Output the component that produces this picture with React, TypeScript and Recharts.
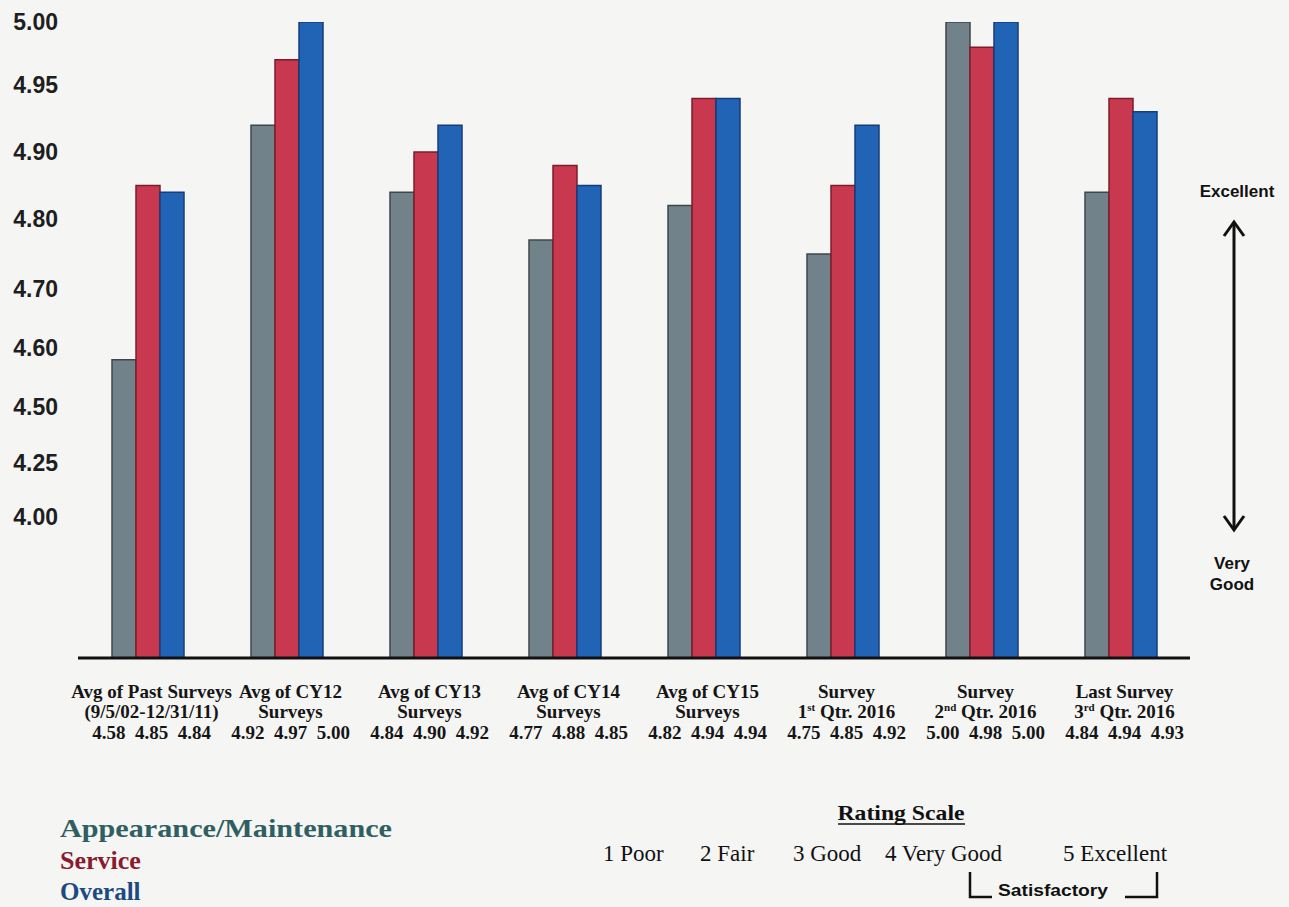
import React from 'react';
import { BarChart, Bar, XAxis, YAxis } from 'recharts';

// ---------- data ----------
const categoryTitles = [
  'Avg of Past Surveys',
  'Avg of CY12',
  'Avg of CY13',
  'Avg of CY14',
  'Avg of CY15',
  'Survey',
  'Survey',
  'Last Survey',
];
const categorySubtitles = [
  '(9/5/02-12/31/11)',
  'Surveys',
  'Surveys',
  'Surveys',
  'Surveys',
  '1^st Qtr. 2016',
  '2^nd Qtr. 2016',
  '3^rd Qtr. 2016',
];
const appearance = [4.58, 4.92, 4.84, 4.77, 4.82, 4.75, 5.0, 4.84];
const service = [4.85, 4.97, 4.9, 4.88, 4.94, 4.85, 4.98, 4.94];
const overall = [4.84, 5.0, 4.92, 4.85, 4.94, 4.92, 5.0, 4.93];

const yTickValues = [4.0, 4.25, 4.5, 4.6, 4.7, 4.8, 4.9, 4.95, 5.0];
// relative height of each tick along the (non-uniform) value axis, 0 = floor, 1 = top
const yTickFractions = [0.2217, 0.3066, 0.3947, 0.4874, 0.5802, 0.6903, 0.7956, 0.9009, 1];
const axisFloor = 3.35;

const ratingItems = ['1 Poor', '2 Fair', '3 Good', '4 Very Good', '5 Excellent'];

const chartData = categoryTitles.map((t, i) => ({
  name: t,
  appearance: appearance[i],
  service: service[i],
  overall: overall[i],
}));

// ---------- piecewise scale matching the printed axis ----------
function makeTickScale(): any {
  let dom: number[] = [axisFloor, 5];
  let rng: number[] = [0, 1];
  const kv = [axisFloor, ...yTickValues];
  const kf = [0, ...yTickFractions];
  const frac = (v: number) => {
    if (v <= kv[0]) return ((v - kv[0]) / (kv[1] - kv[0])) * (kf[1] - kf[0]);
    for (let i = 1; i < kv.length; i++) {
      if (v <= kv[i]) {
        const t = (v - kv[i - 1]) / (kv[i] - kv[i - 1]);
        return kf[i - 1] + t * (kf[i] - kf[i - 1]);
      }
    }
    const n = kv.length - 1;
    return 1 + ((v - kv[n]) / (kv[n] - kv[n - 1])) * (kf[n] - kf[n - 1]);
  };
  const s: any = (v: any) => rng[0] + frac(Number(v)) * (rng[1] - rng[0]);
  s.domain = function (d?: any) {
    if (d === undefined) return dom.slice();
    dom = d.map(Number);
    return s;
  };
  s.range = function (r?: any) {
    if (r === undefined) return rng.slice();
    rng = r.map(Number);
    return s;
  };
  s.copy = function () {
    const c = makeTickScale();
    c.domain(dom);
    c.range(rng);
    return c;
  };
  s.ticks = function () {
    return yTickValues.slice();
  };
  s.tickFormat = function () {
    return (v: any) => Number(v).toFixed(2);
  };
  s.invert = function (px: number) {
    const f = (px - rng[0]) / (rng[1] - rng[0]);
    for (let i = 1; i < kf.length; i++) {
      if (f <= kf[i]) {
        const t = (f - kf[i - 1]) / (kf[i] - kf[i - 1]);
        return kv[i - 1] + t * (kv[i] - kv[i - 1]);
      }
    }
    return kv[kv.length - 1];
  };
  s.clamp = function () {
    return s;
  };
  s.nice = function () {
    return s;
  };
  return s;
}
const yScale = makeTickScale();

// ---------- styling ----------
const GRAY = '#72828a';
const GRAY_EDGE = '#3c474b';
const RED = '#c8394f';
const RED_EDGE = '#7c1c2b';
const BLUE = '#2164b6';
const BLUE_EDGE = '#163d7a';

const SERIF = '"Liberation Serif", "Times New Roman", serif';
const SANS = '"Liberation Sans", Arial, sans-serif';

const XTick = (props: any) => {
  const { x, y, payload } = props;
  const i = payload.index;
  const title = categoryTitles[i];
  const sub = categorySubtitles[i];
  const m = /^(\d)\^(\w+)(.*)$/.exec(sub);
  const vals = [appearance[i], service[i], overall[i]].map((v) => v.toFixed(2)).join('\u00A0 ');
  const cx = x + 4;
  const common = {
    textAnchor: 'middle' as const,
    fontFamily: SERIF,
    fontWeight: 700,
    fontSize: 19,
    fill: '#151515',
  };
  return (
    <g>
      <text x={cx} y={y + 40} {...common}>
        {title}
      </text>
      <text x={cx} y={y + 60} {...common}>
        {m ? (
          <>
            <tspan>{m[1]}</tspan>
            <tspan fontSize={11} dy={-7}>
              {m[2]}
            </tspan>
            <tspan dy={7}>{m[3]}</tspan>
          </>
        ) : (
          sub
        )}
      </text>
      <text x={cx} y={y + 81} {...common}>
        {vals}
      </text>
    </g>
  );
};

export default function App() {
  return (
    <div
      style={{
        position: 'absolute',
        left: 0,
        top: 0,
        width: 1289,
        height: 907,
        background: '#f5f5f4',
        overflow: 'hidden',
      }}
    >
      <BarChart
        width={1289}
        height={907}
        data={chartData}
        margin={{ top: 22, right: 99, bottom: 149, left: 0 }}
        barGap={0}
        barSize={24}
      >
        <XAxis
          dataKey="name"
          height={100}
          interval={0}
          tickLine={false}
          tickSize={0}
          tickMargin={0}
          axisLine={{ stroke: '#111', strokeWidth: 3 }}
          tick={<XTick />}
        />
        <YAxis
          type="number"
          width={78}
          scale={yScale}
          domain={[axisFloor, 5]}
          allowDataOverflow
          ticks={yTickValues}
          interval={0}
          tickLine={false}
          axisLine={false}
          tickSize={0}
          tickMargin={20}
          tickFormatter={(v: number) => v.toFixed(2)}
          tick={{ fill: '#1e1e1e', fontSize: 23, fontWeight: 700, fontFamily: SANS }}
        />
        <Bar dataKey="appearance" fill={GRAY} stroke={GRAY_EDGE} strokeWidth={1.5} isAnimationActive={false} />
        <Bar dataKey="service" fill={RED} stroke={RED_EDGE} strokeWidth={1.5} isAnimationActive={false} />
        <Bar dataKey="overall" fill={BLUE} stroke={BLUE_EDGE} strokeWidth={1.5} isAnimationActive={false} />
      </BarChart>

      <svg
        width={1289}
        height={907}
        style={{ position: 'absolute', left: 0, top: 0, pointerEvents: 'none' }}
      >
        {/* right side scale arrow */}
        <text x={1237} y={197} textAnchor="middle" fontFamily={SANS} fontWeight={700} fontSize={17} fill="#111">
          Excellent
        </text>
        <line x1={1234} y1={222} x2={1234} y2={530} stroke="#111" strokeWidth={3} />
        <polyline points="1224,236 1234,222 1244,236" fill="none" stroke="#111" strokeWidth={3} />
        <polyline points="1224,516 1234,530 1244,516" fill="none" stroke="#111" strokeWidth={3} />
        <text x={1232} y={569} textAnchor="middle" fontFamily={SANS} fontWeight={700} fontSize={17} fill="#111">
          Very
        </text>
        <text x={1232} y={590} textAnchor="middle" fontFamily={SANS} fontWeight={700} fontSize={17} fill="#111">
          Good
        </text>

        {/* series legend */}
        <text x={60} y={837} fontFamily={SERIF} fontWeight={700} fontSize={26} fill="#2f5f60" textLength={332} lengthAdjust="spacingAndGlyphs">
          Appearance/Maintenance
        </text>
        <text x={60} y={869} fontFamily={SERIF} fontWeight={700} fontSize={26} fill="#8a1a2d">
          Service
        </text>
        <text x={60} y={900} fontFamily={SERIF} fontWeight={700} fontSize={25} fill="#1b4a82">
          Overall
        </text>

        {/* rating scale */}
        <text x={901} y={820} textAnchor="middle" fontFamily={SERIF} fontWeight={700} fontSize={22} fill="#111" textLength={127} lengthAdjust="spacingAndGlyphs">
          Rating Scale
        </text>
        <line x1={838} y1={824} x2={965} y2={824} stroke="#111" strokeWidth={1.5} />
        {ratingItems.map((r, i) => (
          <text
            key={r}
            x={[603, 700, 793, 885, 1063][i]}
            y={861}
            fontFamily={SERIF}
            fontSize={23}
            fill="#111"
          >
            {r}
          </text>
        ))}
        <polyline points="970,872 970,897 992,897" fill="none" stroke="#111" strokeWidth={2.5} />
        <polyline points="1125,897 1157,897 1157,872" fill="none" stroke="#111" strokeWidth={2.5} />
        <text x={998} y={896} fontFamily={SANS} fontWeight={700} fontSize={16} fill="#111" textLength={110} lengthAdjust="spacingAndGlyphs">
          Satisfactory
        </text>
      </svg>
    </div>
  );
}
